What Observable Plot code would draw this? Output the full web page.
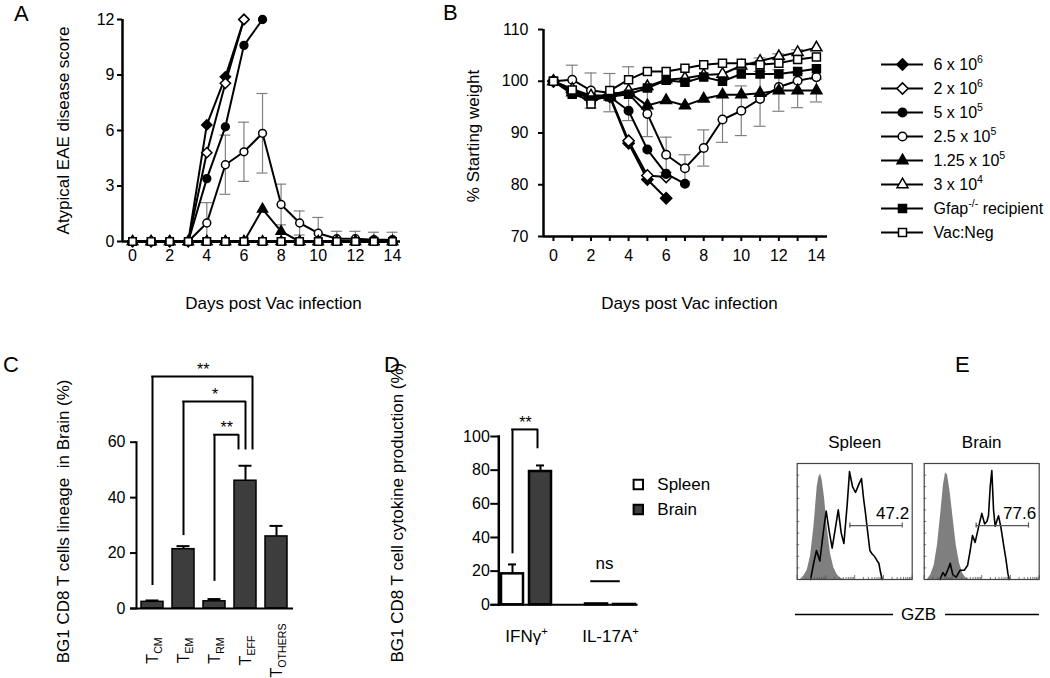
<!DOCTYPE html>
<html><head><meta charset="utf-8">
<script src="https://cdn.jsdelivr.net/npm/d3@7"></script>
<script src="https://cdn.jsdelivr.net/npm/@observablehq/plot@0.6"></script>
<style>
body{margin:0;background:#fff;}
#root{position:relative;width:1050px;height:678px;overflow:hidden;font-family:"Liberation Sans",Arial,Helvetica,sans-serif;color:#000;background:#fff;}
.letter{position:absolute;font-size:22px;line-height:24px;}
</style></head><body><div id="root"></div><script>
// ---------------- DATA ----------------
const days = [0,1,2,3,4,5,6,7,8,9,10,11,12,13,14];
const seriesNames = ["6 x 10^{6}", "2 x 10^{6}", "5 x 10^{5}", "2.5 x 10^{5}", "1.25 x 10^{5}", "3 x 10^{4}", "Gfap^{-/-} recipient", "Vac:Neg"];

// Panel A: atypical EAE disease score
const scoreA_6e6   = [0,0,0,0,6.3,8.9,12];
const scoreA_2e6   = [0,0,0,0,4.8,8.55,12];
const scoreA_5e5   = [0,0,0,0,3.4,6.2,10.6,12];
const scoreA_25e4  = [0,0,0,0,1.0,4.15,4.85,5.85,2.0,1.0,0.45,0.15,0.15,0.1,0.1];
const scoreA_125e3 = [0,0,0,0,0,0,0,1.75,0.55,0,0,0,0,0,0];
const scoreA_3e4   = [0,0,0,0,0,0,0,0,0,0,0,0,0,0,0];
const scoreA_gfap  = [0,0,0,0,0,0,0,0,0,0,0,0,0,0,0];
const scoreA_neg   = [0,0,0,0,0,0,0,0,0,0,0,0,0,0,0];
const sdA_25e4     = [null,null,null,null,1.1,1.6,1.6,2.15,1.1,0.65,0.85,0.4,0.4,0.4,0.4];

// Panel B: % starting weight
const weightB_6e6   = [100,97.8,96.8,97.0,88.0,81.0,77.4];
const weightB_2e6   = [100,98.0,97.0,97.2,88.5,81.8,81.5];
const weightB_5e5   = [100,98.0,97.3,97.0,94.3,86.8,82.1,80.2];
const weightB_25e4  = [100,100.3,98.2,97.8,97.6,93.7,85.8,83.2,87.1,92.6,94.3,96.6,98.9,100.1,100.8];
const weightB_125e3 = [100,97.8,97.0,97.0,97.9,95.3,96.3,95.3,96.6,97.4,97.4,97.7,98.2,98.2,98.2];
const weightB_3e4   = [100,98.5,97.2,97.3,98.2,99.0,100.3,100.6,101.2,101.4,103.0,103.9,104.8,105.6,106.5];
const weightB_gfap  = [100,97.5,96.4,97.0,97.5,98.7,100.2,99.8,100.8,100.0,101.4,101.4,101.4,101.9,102.4];
const weightB_neg   = [100,98.3,95.6,98.2,100.3,101.9,101.9,102.5,103.2,103.5,103.5,103.2,103.5,104.2,104.7];
const sdB_25e4  = [null,2.8,3.4,3.7,5.2,4.4,3.4,2.6,3.5,4.4,4.8,5.3,null,null,null];
const sdB_125e3 = [null,null,null,null,null,null,null,null,null,null,null,null,4.0,3.3,2.2];
const sdB_3e4   = [null,null,null,null,null,null,null,null,null,null,null,0.6,0.5,0.5,null];

// Panel C: BG1 CD8 T cell lineage in brain
const catsC = ["T_{CM}", "T_{EM}", "T_{RM}", "T_{EFF}", "T_{OTHERS}"];
const meanC = [2.4, 21.4, 2.6, 46.1, 26.0];
const errC  = [0.5, 1.1, 0.8, 5.4, 3.8];
const bracketFromC = ["T_{CM}", "T_{EM}", "T_{RM}"];
const bracketToC = "T_{EFF}";
const bracketTopC = [83.7, 74.7, 62.7];
const bracketLegFromC = [8.3, 26.3, 9.8];
const bracketLegToC = 57.2;
const bracketLabelC = ["**", "*", "**"];

// Panel D: cytokine production
const groupsD = ["IFNγ^{+}", "IL-17A^{+}"];
const tissuesD = ["Spleen", "Brain"];
const spleenD = [18.4, 0.5];
const spleenErrD = [5.6, 0];
const brainD = [79.2, 0.2];
const brainErrD = [3.6, 0];
const sigD = {top: 104.2, legSpleen: 30.3, legBrain: 92.7, label: "**"};
const nsD = {level: 14, label: "ns"};

// Panel E: GZB histograms (x: % of channel range, y: % of mode)
const spleenIsoX = [2.9,5.8,8.7,11.6,14.5,17.4,18.8,20.3,21.7,23.8,26.1,29.0,31.9,34.8,37.7,40.6];
const spleenIsoY = [0,3,8,20,45,80,88,91,86,70,45,22,10,4,1,0];
const spleenGzbX = [11.6,14.5,16.8,19.7,22.6,25.2,28.1,30.4,33.3,35.7,38.3,40.6,43.5,45.5,48.1,50.7,53.6,55.9,57.7,59.4,61.4,63.2,65.2,67.2,69.6,71.0,72.5,73.9];
const spleenGzbY = [0,15,25,16,40,59,40,27,45,60,40,31,65,93,80,75,82,87,70,57,40,25,22,20,16,14,6,0];
const brainIsoX = [2.9,5.8,8.7,11.6,14.5,16.8,18.6,20.3,22.6,24.9,27.8,30.7,33.6,36.5,39.4];
const brainIsoY = [0,4,12,30,58,82,92,90,75,55,30,14,5,1,0];
const brainGzbX = [13.9,16.2,18.3,21.2,22.6,24.9,27.8,31.3,34.8,37.7,40.0,42.0,44.3,47.2,50.1,52.5,54.5,55.9,57.4,58.8,60.3,61.7,64.6,66.7,69.0,71.0,72.8,73.9];
const brainGzbY = [0,6,3,10,14,4,2,8,8,12,25,38,32,45,57,48,50,55,80,94,60,46,55,45,30,18,5,0];
const gateSpleen = {x1: 45.8, x2: 91.3, y: 46.5, label: "47.2"};
const gateBrain  = {x1: 45.2, x2: 90.7, y: 46.5, label: "77.6"};

// ---------------- STYLE ----------------
const FONT = '"Liberation Sans", Arial, Helvetica, sans-serif';
const SYMBOLS = ["diamond2","diamond2","circle","circle","triangle","triangle","square","square"];
const FILLS = ["black","white","black","white","black","white","black","white"];
const RADII = [4.6,4.6,3.9,3.9,3.7,3.7,4.1,4.1];
const ERR = "#808080";
const baseStyle = {fontFamily: FONT, fontSize: "16px", background: "transparent", color: "black", overflow: "visible"};
const root = document.getElementById("root");
function place(node, left, top) {
  node.style.position = "absolute"; node.style.left = left + "px"; node.style.top = top + "px";
  root.appendChild(node); return node;
}
function rowsOf(vals) {
  return days.map((d, i) => ({day: d, value: vals[i]})).filter(r => r.value != null);
}
function errRows(vals, sd, clip0) {
  return days.map((d, i) => (sd[i] == null || vals[i] == null) ? null :
    {day: d, lo: clip0 ? Math.max(0, vals[i] - sd[i]) : vals[i] - sd[i], hi: vals[i] + sd[i]}).filter(Boolean);
}
function seriesMarks(list, rscale) {
  const marks = [];
  list.forEach((vals, k) => {
    const rows = rowsOf(vals);
    marks.push(Plot.line(rows, {x: "day", y: "value", stroke: "black", strokeWidth: 2}));
    marks.push(Plot.dot(rows, {x: "day", y: "value", symbol: SYMBOLS[k], fill: FILLS[k], stroke: "black", strokeWidth: 1.5, r: RADII[k] * rscale}));
  });
  return marks;
}
function errMarks(rows, cap) {
  return [
    Plot.ruleX(rows, {x: "day", y1: "lo", y2: "hi", stroke: ERR, strokeWidth: 1.2}),
    Plot.ruleY(rows, {y: "hi", x1: "day", x2: "day", insetLeft: -cap, insetRight: -cap, stroke: ERR, strokeWidth: 1.2}),
    Plot.ruleY(rows.filter(r => r.lo > 0), {y: "lo", x1: "day", x2: "day", insetLeft: -cap, insetRight: -cap, stroke: ERR, strokeWidth: 1.2})
  ];
}
const T = (opts) => ({textAnchor: "middle", lineAnchor: "middle", ...opts});

// ---------------- PANEL A ----------------
const xDomA = [-0.54, 14.43];
const scoreSeries = [scoreA_6e6, scoreA_2e6, scoreA_5e5, scoreA_25e4, scoreA_125e3, scoreA_3e4, scoreA_gfap, scoreA_neg];
const plotA = Plot.plot({
  width: 430, height: 320, marginLeft: 122, marginRight: 30, marginTop: 19, marginBottom: 79,
  style: baseStyle,
  x: {domain: xDomA}, y: {domain: [0, 12]},
  marks: [
    ...errMarks(errRows(scoreA_25e4, sdA_25e4, true), 5.5),
    Plot.axisY({ticks: [0,3,6,9,12], tickSize: 5, tickPadding: 3, strokeWidth: 2, fontSize: 16, label: null}),
    Plot.axisX({ticks: days, tickSize: 4, tickPadding: 4, strokeWidth: 2, fontSize: 16, label: null, tickFormat: d => d % 2 ? "" : String(d)}),
    Plot.ruleX([xDomA[0]], {y1: 0, y2: 12, strokeWidth: 2.5}),
    Plot.ruleY([0], {strokeWidth: 2.5}),
    ...seriesMarks(scoreSeries, 1),
    Plot.text(["Days post Vac infection"], T({text: d => d, frameAnchor: "bottom", dy: 62, dx: 12, fontSize: 17})),
    Plot.text(["Atypical EAE disease score"], T({text: d => d, frameAnchor: "left", dx: -59, rotate: -90, fontSize: 17}))
  ]
});
place(plotA, 0, 0);

// ---------------- PANEL B ----------------
const xDomB = [-0.53, 14.59];
const weightSeries = [weightB_6e6, weightB_2e6, weightB_5e5, weightB_25e4, weightB_125e3, weightB_3e4, weightB_gfap, weightB_neg];
const errB = [...errRows(weightB_25e4, sdB_25e4), ...errRows(weightB_125e3, sdB_125e3), ...errRows(weightB_3e4, sdB_3e4)];
const plotB = Plot.plot({
  width: 420, height: 320, marginLeft: 103, marginRight: 33, marginTop: 29, marginBottom: 84,
  style: baseStyle,
  x: {domain: xDomB}, y: {domain: [70, 110]},
  marks: [
    ...errMarks(errB, 6),
    Plot.axisY({ticks: [70,80,90,100,110], tickSize: 5, tickPadding: 10, strokeWidth: 2, fontSize: 16, label: null}),
    Plot.axisX({ticks: days, tickSize: 5, tickPadding: 8, strokeWidth: 2, fontSize: 16, label: null, tickFormat: d => d % 2 ? "" : String(d)}),
    Plot.ruleX([xDomB[0]], {y1: 70, y2: 110, strokeWidth: 2.5}),
    Plot.ruleY([70], {strokeWidth: 2.5}),
    ...seriesMarks(weightSeries, 1.1),
    Plot.text(["Days post Vac infection"], T({text: d => d, frameAnchor: "bottom", dy: 67, dx: 4, fontSize: 17})),
    Plot.text(["% Starting weight"], T({text: d => d, frameAnchor: "left", dx: -70, dy: 3, rotate: -90, fontSize: 17}))
  ]
});
place(plotB, 440, 0);

// legend for A/B
const plotLeg = Plot.plot({
  width: 180, height: 205, marginLeft: 11, marginRight: 127, marginTop: 18, marginBottom: 17,
  style: baseStyle,
  x: {domain: [0, 1], axis: null},
  y: {type: "point", domain: seriesNames, padding: 0, axis: null},
  marks: [
    Plot.ruleY(seriesNames, {y: d => d, x1: 0, x2: 1, strokeWidth: 2}),
    ...seriesNames.map((n, k) => Plot.dot([n], {x: 0.5, y: d => d, symbol: SYMBOLS[k], fill: FILLS[k], stroke: "black", strokeWidth: 1.5, r: RADII[k] * 1.1})),
    Plot.text(seriesNames, {x: 1, y: d => d, text: d => d, dx: 10, textAnchor: "start", fontSize: 16})
  ]
});
place(plotLeg, 870, 45);

// ---------------- PANEL C ----------------
const dataC = catsC.map((c, i) => ({cat: c, mean: meanC[i], hi: meanC[i] + errC[i]}));
const bwC = 22.5;
const rightLegOffsetC = [7, 0, -7];
function bracketCenterDx(i) {
  const steps = catsC.indexOf(bracketToC) - catsC.indexOf(bracketFromC[i]);
  return (steps * 31.5 + rightLegOffsetC[i]) / 2;
}
const bracketMarksC = [];
bracketFromC.forEach((from, i) => {
  const b = [{from, to: bracketToC, top: bracketTopC[i], leg: bracketLegFromC[i], label: bracketLabelC[i]}];
  const off = rightLegOffsetC[i];
  bracketMarksC.push(Plot.ruleX(b, {x: "from", y1: "leg", y2: "top", strokeWidth: 2}));
  bracketMarksC.push(Plot.ruleX(b, {x: "to", y1: () => bracketLegToC, y2: "top", dx: off, strokeWidth: 2}));
  bracketMarksC.push(Plot.ruleY(b, {y: "top", x1: "from", x2: "to", insetLeft: bwC / 2 - 1, insetRight: bwC / 2 - off - 1, strokeWidth: 2}));
  bracketMarksC.push(Plot.text(b, T({x: "from", y: "top", text: "label", dx: bracketCenterDx(i), dy: -7, fontSize: 16})));
});
const plotC = Plot.plot({
  width: 380, height: 338, marginLeft: 136, marginRight: 87, marginTop: 101.7, marginBottom: 70,
  style: baseStyle,
  x: {type: "band", domain: catsC, paddingInner: 0.2857, paddingOuter: 0.135, axis: null},
  y: {domain: [0, 60]},
  marks: [
    Plot.barY(dataC, {x: "cat", y: "mean", fill: "#3d3d3d", stroke: "black", strokeWidth: 1.5}),
    Plot.ruleX(dataC, {x: "cat", y1: "mean", y2: "hi", strokeWidth: 2}),
    Plot.tickY(dataC, {x: "cat", y: "hi", inset: 4.5, strokeWidth: 2}),
    Plot.axisY({ticks: [0,20,40,60], tickSize: 6, tickPadding: 5, strokeWidth: 2, fontSize: 16, label: null}),
    Plot.frame({anchor: "left", strokeWidth: 2}),
    Plot.ruleY([0], {insetLeft: -6, strokeWidth: 2}),
    ...bracketMarksC,
    Plot.text(catsC, T({x: d => d, text: d => d, frameAnchor: "bottom", dy: 42, rotate: -90, fontSize: 16})),
    Plot.text(["BG1 CD8 T cells lineage  in Brain (%)"], T({text: d => d, frameAnchor: "left", dx: -73, dy: -4, rotate: -90, fontSize: 17}))
  ]
});
place(plotC, 0, 340);

// ---------------- PANEL D ----------------
const slotKey = (g, t) => g + "|" + t;
const slotsD = [slotKey(groupsD[0], "Spleen"), slotKey(groupsD[0], "Brain"), "", slotKey(groupsD[1], "Spleen"), slotKey(groupsD[1], "Brain")];
const spleenRows = groupsD.map((g, i) => ({slot: slotKey(g, "Spleen"), value: spleenD[i], hi: spleenD[i] + spleenErrD[i], err: spleenErrD[i]}));
const brainRows = groupsD.map((g, i) => ({slot: slotKey(g, "Brain"), value: brainD[i], hi: brainD[i] + brainErrD[i], err: brainErrD[i]}));
const errRowsD = [...spleenRows, ...brainRows].filter(r => r.err > 0);
const sigRow = [{a: slotKey(groupsD[0], "Spleen"), b: slotKey(groupsD[0], "Brain"), ...sigD}];
const nsRow = [{a: slotKey(groupsD[1], "Spleen"), b: slotKey(groupsD[1], "Brain"), ...nsD}];
const bwD = 22.5;
const plotD = Plot.plot({
  width: 300, height: 338, marginLeft: 118.3, marginRight: 42.4, marginTop: 96, marginBottom: 73.7,
  style: baseStyle,
  x: {type: "band", domain: slotsD, paddingInner: 0.205, paddingOuter: 0.064, axis: null},
  y: {domain: [0, 100]},
  marks: [
    Plot.ruleX(errRowsD, {x: "slot", y1: "value", y2: "hi", strokeWidth: 2}),
    Plot.tickY(errRowsD, {x: "slot", y: "hi", inset: 7, strokeWidth: 2}),
    Plot.barY(spleenRows, {x: "slot", y: "value", fill: "white", stroke: "black", strokeWidth: 2.5}),
    Plot.barY(brainRows, {x: "slot", y: "value", fill: "#3d3d3d", stroke: "black", strokeWidth: 2.5}),
    Plot.axisY({ticks: [0,20,40,60,80,100], tickSize: 8, tickPadding: 1, strokeWidth: 2, fontSize: 16, label: null}),
    Plot.frame({anchor: "left", strokeWidth: 2.5}),
    Plot.ruleY([0], {insetLeft: -8, strokeWidth: 2}),
    Plot.ruleX(sigRow, {x: "a", y1: "legSpleen", y2: "top", strokeWidth: 2}),
    Plot.ruleX(sigRow, {x: "b", y1: "legBrain", y2: "top", dx: -3, strokeWidth: 2}),
    Plot.ruleY(sigRow, {y: "top", x1: "a", x2: "b", insetLeft: bwD / 2 - 1, insetRight: bwD / 2 + 3 - 1, strokeWidth: 2}),
    Plot.text(sigRow, T({x: "a", y: "top", text: "label", dx: 13, dy: -7, fontSize: 16})),
    Plot.ruleY(nsRow, {y: "level", x1: "a", x2: "b", insetLeft: bwD / 2 - 6, insetRight: bwD / 2 + 4, strokeWidth: 2}),
    Plot.text(nsRow, T({x: "a", y: "level", text: "label", dx: 8, dy: -17.7, fontSize: 17})),
    Plot.text(groupsD, T({x: g => slotKey(g, "Spleen"), text: d => d, frameAnchor: "bottom", dx: 14, dy: 32, fontSize: 17})),
    Plot.text(["BG1 CD8 T cell cytokine production (%)"], T({text: d => d, frameAnchor: "left", dx: -101.6, dy: -8, rotate: -90, fontSize: 17}))
  ]
});
place(plotD, 380, 340);

// legend D
const plotLegD = Plot.plot({
  width: 100, height: 55, marginLeft: 12.8, marginRight: 50, marginTop: 14, marginBottom: 16,
  style: baseStyle,
  x: {domain: [0, 1], axis: null},
  y: {type: "point", domain: tissuesD, padding: 0, axis: null},
  marks: [
    Plot.dot(["Spleen"], {x: 0, y: d => d, symbol: "square", fill: "white", stroke: "black", strokeWidth: 2, r: 5.3}),
    Plot.dot(["Brain"], {x: 0, y: d => d, symbol: "square", fill: "#3d3d3d", stroke: "black", strokeWidth: 2, r: 5.3}),
    Plot.text(tissuesD, {x: 0, y: d => d, text: d => d, dx: 19, textAnchor: "start", fontSize: 17})
  ]
});
place(plotLegD, 625, 470);

// ---------------- PANEL E ----------------
const leftTicksE = [10,20,30,40,50,60,70,80,90];
const decadeTicksE = [0,25,50,75,100];
const minorTicksE = decadeTicksE.slice(0, 4).flatMap(d => [2,3,4,5,6,7,8,9].map(k => d + 25 * Math.log10(k)));
function histPlot(title, isoX, isoY, gzbX, gzbY, gate) {
  const iso = isoX.map((x, i) => ({x, y: isoY[i]}));
  const gzb = gzbX.map((x, i) => ({x, y: gzbY[i]}));
  return Plot.plot({
    width: 128, height: 160, marginLeft: 6.7, marginRight: 6.3, marginTop: 38, marginBottom: 6,
    style: baseStyle,
    x: {domain: [0, 100], axis: null}, y: {domain: [0, 100], axis: null},
    marks: [
      Plot.areaY(iso, {x: "x", y: "y", fill: "#7f7f7f"}),
      Plot.line(gzb, {x: "x", y: "y", stroke: "black", strokeWidth: 1.6}),
      Plot.ruleY(leftTicksE, {y: d => d, x1: 0, x2: 2.2, stroke: "#555", strokeWidth: 0.8}),
      Plot.ruleX(minorTicksE, {x: d => d, y1: 0, y2: 1.8, stroke: "#555", strokeWidth: 0.8}),
      Plot.ruleX(decadeTicksE, {x: d => d, y1: 0, y2: 3.5, stroke: "#555", strokeWidth: 0.8}),
      Plot.frame({stroke: "#444", strokeWidth: 1.2}),
      Plot.ruleY([gate], {y: "y", x1: "x1", x2: "x2", stroke: "#555", strokeWidth: 1.2}),
      Plot.ruleX([gate], {x: "x1", y1: d => d.y - 2.2, y2: d => d.y + 2.2, stroke: "#555", strokeWidth: 1.2}),
      Plot.ruleX([gate], {x: "x2", y1: d => d.y - 2.2, y2: d => d.y + 2.2, stroke: "#555", strokeWidth: 1.2}),
      Plot.text([gate], {x: 100, y: "y", text: "label", dx: -3, dy: -12, textAnchor: "end", lineAnchor: "middle", fontSize: 17}),
      Plot.text([title], T({text: d => d, frameAnchor: "top", dy: -21, fontSize: 17}))
    ]
  });
}
place(histPlot("Spleen", spleenIsoX, spleenIsoY, spleenGzbX, spleenGzbY, gateSpleen), 790, 425);
place(histPlot("Brain", brainIsoX, brainIsoY, brainGzbX, brainGzbY, gateBrain), 917.3, 425);

const plotGzb = Plot.plot({
  width: 244, height: 28, marginLeft: 0, marginRight: 0, marginTop: 0, marginBottom: 0,
  style: baseStyle,
  x: {domain: [0, 1], axis: null}, y: {domain: [-1, 1], axis: null},
  marks: [
    Plot.ruleY([0], {insetRight: 146, strokeWidth: 1.5}),
    Plot.ruleY([0], {insetLeft: 150, strokeWidth: 1.5}),
    Plot.text(["GZB"], T({text: d => d, frameAnchor: "middle", dx: 1, fontSize: 17}))
  ]
});
place(plotGzb, 795, 600);

// ---------------- PANEL LETTERS ----------------
[["A", 14, 2], ["B", 443, 1], ["C", 3, 353], ["D", 384, 353], ["E", 955, 353]].forEach(([t, l, tp]) => {
  const d = document.createElement("div"); d.className = "letter"; d.textContent = t;
  d.style.left = l + "px"; d.style.top = tp + "px"; root.appendChild(d);
});

// ---------------- RICH TEXT (super/subscripts) ----------------
function richify(container) {
  const NS = "http://www.w3.org/2000/svg";
  container.querySelectorAll("svg text").forEach(t => {
    const s = t.textContent;
    if (!/[\^_]\{/.test(s)) return;
    const fs = parseFloat(getComputedStyle(t).fontSize) || 16;
    while (t.firstChild) t.removeChild(t.firstChild);
    const re = /([\^_])\{([^}]*)\}/g;
    let last = 0, m, shift = 0;
    const add = (txt, mode) => {
      const ts = document.createElementNS(NS, "tspan");
      ts.textContent = txt;
      const target = mode === "^" ? -0.42 * fs : mode === "_" ? 0.25 * fs : 0;
      if (target !== shift) { ts.setAttribute("dy", (target - shift).toFixed(2)); shift = target; }
      if (mode) ts.setAttribute("font-size", (fs * 0.66).toFixed(1));
      t.appendChild(ts);
    };
    while ((m = re.exec(s))) {
      if (m.index > last) add(s.slice(last, m.index), null);
      add(m[2], m[1]);
      last = re.lastIndex;
    }
    if (last < s.length) add(s.slice(last), null);
  });
}
richify(root);
</script></body></html>
